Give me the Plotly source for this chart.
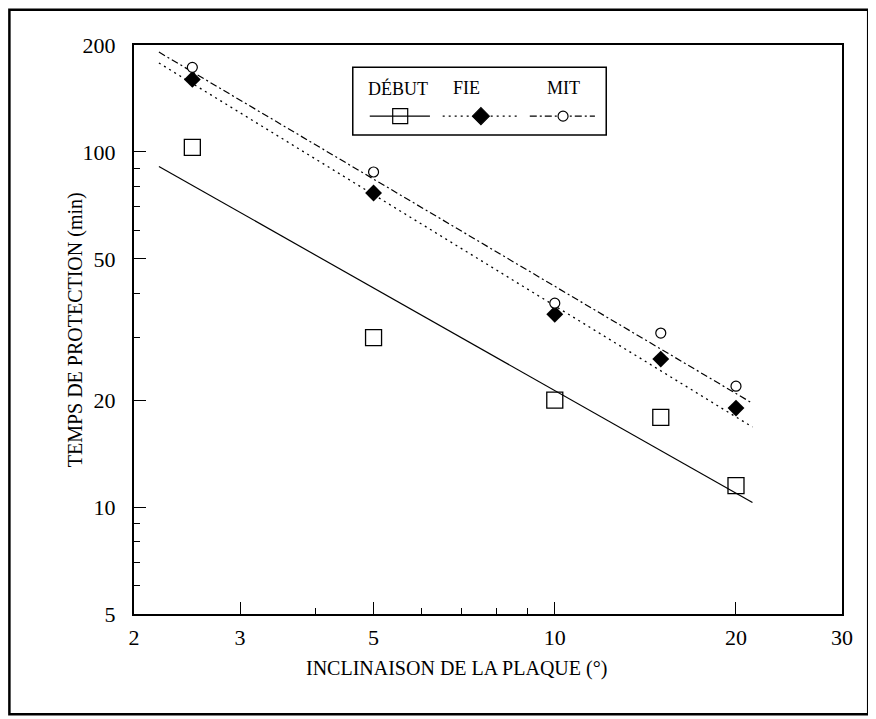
import plotly.graph_objects as go

# données (échelle log-log)
inclinaison = [2.5, 5, 10, 15, 20]
debut = [103, 30, 20, 17.9, 11.5]
fie = [160, 76.6, 34.9, 26.1, 19.0]
mit = [173, 87.8, 37.5, 30.9, 21.9]

# droites de régression (extrémités lues)
fit_x = [2.2, 21.3]
debut_fit = [91, 10.3]
fie_fit = [178, 16.8]
mit_fit = [191, 19.6]

x_ticks = [2, 3, 5, 10, 20, 30]
x_minor = [4, 6, 7, 8, 9]
y_ticks = [5, 10, 20, 50, 100, 200]
y_minor = [6, 7, 8, 9, 30, 40, 60, 70, 80, 90]

FONT = "Liberation Serif"
NOIR = "black"

fig = go.Figure()

# droites
fig.add_trace(go.Scatter(x=fit_x, y=debut_fit, mode="lines",
                         line=dict(color=NOIR, width=1.2, dash="solid"), showlegend=False))
fig.add_trace(go.Scatter(x=fit_x, y=fie_fit, mode="lines",
                         line=dict(color=NOIR, width=1.3, dash="2px,4px"), showlegend=False))
fig.add_trace(go.Scatter(x=fit_x, y=mit_fit, mode="lines",
                         line=dict(color=NOIR, width=1.2, dash="7px,3px,2px,3px"), showlegend=False))

# points
fig.add_trace(go.Scatter(x=inclinaison, y=debut, mode="markers", showlegend=False,
                         marker=dict(symbol="square-open", size=16, color=NOIR,
                                     line=dict(width=1.3, color=NOIR))))
fig.add_trace(go.Scatter(x=inclinaison, y=fie, mode="markers", showlegend=False,
                         marker=dict(symbol="diamond", size=13, color=NOIR)))
fig.add_trace(go.Scatter(x=inclinaison, y=mit, mode="markers", showlegend=False,
                         marker=dict(symbol="circle", size=10, color="white",
                                     line=dict(width=1.2, color=NOIR))))

# légende dessinée à la main (texte au-dessus du symbole)
leg_y = 0.875
legende = [
    ("DÉBUT", 0.373, [0.333, 0.418], 0.376, "solid", "square-open", 15, 1.2),
    ("FIE", 0.470, [0.436, 0.545], 0.490, "2px,4px", "diamond", 13, 1.3),
    ("MIT", 0.606, [0.559, 0.651], 0.606, "7px,3px,2px,3px", "circle", 10, 1.2),
]
for nom, xt, xl, xm, dash, sym, taille, lw in legende:
    fig.add_trace(go.Scatter(x=xl, y=[leg_y, leg_y], xaxis="x2", yaxis="y2", mode="lines",
                             line=dict(color=NOIR, width=lw, dash=dash), showlegend=False,
                             hoverinfo="skip"))
    couleur = "white" if sym == "circle" else NOIR
    fig.add_trace(go.Scatter(x=[xm], y=[leg_y], xaxis="x2", yaxis="y2", mode="markers",
                             marker=dict(symbol=sym, size=taille, color=couleur,
                                         line=dict(width=1.2, color=NOIR)),
                             showlegend=False, hoverinfo="skip"))
    fig.add_annotation(x=xt, y=0.924, xref="paper", yref="paper", text=nom,
                       xanchor="center", yanchor="middle",
                       showarrow=False, font=dict(family=FONT, size=18, color=NOIR))

fig.add_shape(type="rect", xref="paper", yref="paper", x0=0.309, x1=0.667, y0=0.842, y1=0.961,
              line=dict(color=NOIR, width=1.5))

# cadre extérieur
fig.add_shape(type="rect", xref="paper", yref="paper", x0=-0.176, x1=1.037, y0=-0.176, y1=1.062,
              line=dict(color=NOIR, width=2.5))

# titres des axes
fig.add_annotation(x=0.456, y=-0.095, xref="paper", yref="paper", xanchor="center",
                   yanchor="middle", text="INCLINAISON DE LA PLAQUE (°)", showarrow=False,
                   font=dict(family=FONT, size=20, color=NOIR))
fig.add_annotation(x=-0.083, y=0.499, xref="paper", yref="paper", textangle=-90,
                   xanchor="center", yanchor="middle",
                   text="TEMPS DE PROTECTION (min)", showarrow=False,
                   font=dict(family=FONT, size=20, color=NOIR))

# la page ajoute une marge de 8 px : figure réduite d'autant
fig.update_layout(
    width=868, height=711,
    margin=dict(l=126, r=34, t=37, b=105),
    paper_bgcolor="white", plot_bgcolor="white",
    font=dict(family=FONT, color=NOIR),
    xaxis=dict(type="log", range=[0.30103, 1.47712], tickvals=x_ticks,
               ticktext=[str(v) for v in x_ticks], ticks="inside", ticklen=12,
               tickwidth=1.2, tickcolor=NOIR, showline=True, linecolor=NOIR, linewidth=2,
               mirror=True, showgrid=False, zeroline=False, ticklabelstandoff=3,
               tickfont=dict(family=FONT, size=22, color=NOIR),
               minor=dict(tickvals=x_minor, ticks="inside", ticklen=6, tickcolor=NOIR,
                          tickwidth=1.2, showgrid=False)),
    yaxis=dict(type="log", range=[0.69897, 2.30103], tickvals=y_ticks,
               ticktext=[str(v) for v in y_ticks], ticks="inside", ticklen=12,
               tickwidth=1.2, tickcolor=NOIR, showline=True, linecolor=NOIR, linewidth=2,
               mirror=True, showgrid=False, zeroline=False, ticklabelstandoff=12,
               tickfont=dict(family=FONT, size=22, color=NOIR),
               minor=dict(tickvals=y_minor, ticks="inside", ticklen=6, tickcolor=NOIR,
                          tickwidth=1.2, showgrid=False)),
    xaxis2=dict(overlaying="x", anchor="y2", range=[0, 1], visible=False, fixedrange=True),
    yaxis2=dict(overlaying="y", anchor="x2", range=[0, 1], visible=False, fixedrange=True),
    showlegend=False,
)

fig.write_html("out.html")
